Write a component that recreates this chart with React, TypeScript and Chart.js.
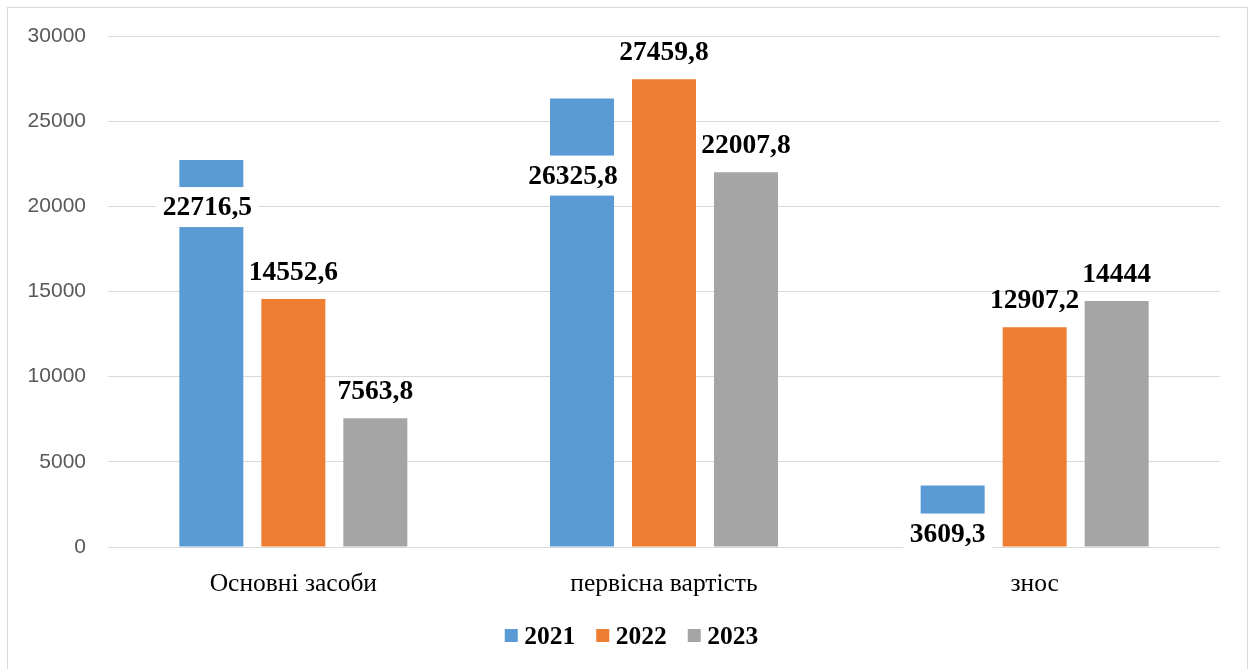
import { useEffect, useRef } from "react";
import { Chart, registerables } from "chart.js";

Chart.register(...registerables);

const categories = ["Основні засоби", "первісна вартість", "знос"];
const years = ["2021", "2022", "2023"];
const values2021 = [22716.5, 26325.8, 3609.3];
const values2022 = [14552.6, 27459.8, 12907.2];
const values2023 = [7563.8, 22007.8, 14444];
const yTicks = [0, 5000, 10000, 15000, 20000, 25000, 30000];
const seriesColors = ["#5b9bd5", "#ed7d31", "#a5a5a5"];

// Placement of the boxed 2021 labels relative to the bar top, in px
const insideLabelDrop = [47, 77, 48];
const insideLabelShift = [-4, -9, -5];

const formatValue = (v: number) => String(v).replace(".", ",");

const valueLabels = {
  id: "valueLabels",
  afterDatasetsDraw(chart: any) {
    const ctx = chart.ctx as CanvasRenderingContext2D;
    ctx.save();
    ctx.font = "bold 27.5px 'Liberation Serif'";
    ctx.textAlign = "center";
    chart.data.datasets.forEach((ds: any, di: number) => {
      const meta = chart.getDatasetMeta(di);
      meta.data.forEach((bar: any, i: number) => {
        const text = formatValue(ds.data[i]);
        const { x, y } = bar.getProps(["x", "y"], true);
        if (di === 0) {
          const cx = x + insideLabelShift[i];
          const cy = y + insideLabelDrop[i];
          const w = ctx.measureText(text).width + 13;
          ctx.fillStyle = "#ffffff";
          ctx.fillRect(cx - w / 2, cy - 20, w, 40);
          ctx.fillStyle = "#000000";
          ctx.textBaseline = "middle";
          ctx.fillText(text, cx, cy + 1);
        } else {
          ctx.fillStyle = "#000000";
          ctx.textBaseline = "alphabetic";
          ctx.fillText(text, x, y - 19);
        }
      });
    });
    ctx.restore();
  },
};

const legendRow = {
  id: "legendRow",
  afterDraw(chart: any) {
    const ctx = chart.ctx as CanvasRenderingContext2D;
    ctx.save();
    ctx.font = "bold 25.5px 'Liberation Serif'";
    const items = chart.data.datasets.map((d: any) => ({
      label: d.label as string,
      color: d.backgroundColor as string,
      w: ctx.measureText(d.label).width,
    }));
    const box = 13;
    const gap = 6.5;
    const space = 21;
    const total =
      items.reduce((s: number, it: any) => s + box + gap + it.w, 0) +
      space * (items.length - 1);
    let x = chart.width / 2 + 4 - total / 2;
    const baseline = 636;
    ctx.textAlign = "left";
    ctx.textBaseline = "alphabetic";
    items.forEach((it: any) => {
      ctx.fillStyle = it.color;
      ctx.fillRect(x, baseline - 15, box, box);
      x += box + gap;
      ctx.fillStyle = "#000000";
      ctx.fillText(it.label, x, baseline);
      x += it.w + space;
    });
    ctx.restore();
  },
};

export default function App() {
  const canvasRef = useRef<HTMLCanvasElement | null>(null);

  useEffect(() => {
    if (!canvasRef.current) return;
    const seriesValues = [values2021, values2022, values2023];
    const chart = new Chart(canvasRef.current, {
      type: "bar",
      data: {
        labels: categories,
        datasets: years.map((year, i) => ({
          label: year,
          data: seriesValues[i],
          backgroundColor: seriesColors[i],
          borderWidth: 0,
          categoryPercentage: 0.6637,
          barPercentage: 0.7805,
        })),
      },
      options: {
        responsive: false,
        animation: false,
        devicePixelRatio: 1,
        layout: { padding: { left: 0, right: 27, top: 28, bottom: 0 } },
        plugins: {
          legend: { display: false },
          tooltip: { enabled: false },
        },
        scales: {
          x: {
            grid: { display: false, drawTicks: false },
            border: { display: false },
            ticks: {
              color: "#000000",
              padding: 22,
              font: { family: "'Liberation Serif'", size: 25.5 },
            },
            afterFit: (scale: any) => {
              scale.height = 122;
              scale.paddingLeft = 0;
              scale.paddingRight = 0;
            },
          },
          y: {
            min: yTicks[0],
            max: yTicks[yTicks.length - 1],
            grid: { color: "#d9d9d9", lineWidth: 1, drawTicks: false },
            border: { display: false },
            ticks: {
              color: "#595959",
              padding: 22,
              font: { family: "'Liberation Sans'", size: 21 },
              callback: (v: any) => String(v),
            },
            afterBuildTicks: (scale: any) => {
              scale.ticks = yTicks.map((v) => ({ value: v }));
            },
            afterFit: (scale: any) => {
              scale.width = 100;
              scale.paddingTop = 0;
              scale.paddingBottom = 0;
            },
          },
        },
      },
      plugins: [valueLabels, legendRow],
    });
    return () => chart.destroy();
  }, []);

  return (
    <div
      style={{
        position: "fixed",
        left: 7,
        top: 7,
        width: 1239,
        height: 670,
        border: "1px solid #d9d9d9",
        borderBottom: "none",
        background: "#ffffff",
      }}
    >
      <canvas ref={canvasRef} width={1239} height={661} style={{ display: "block" }} />
    </div>
  );
}
